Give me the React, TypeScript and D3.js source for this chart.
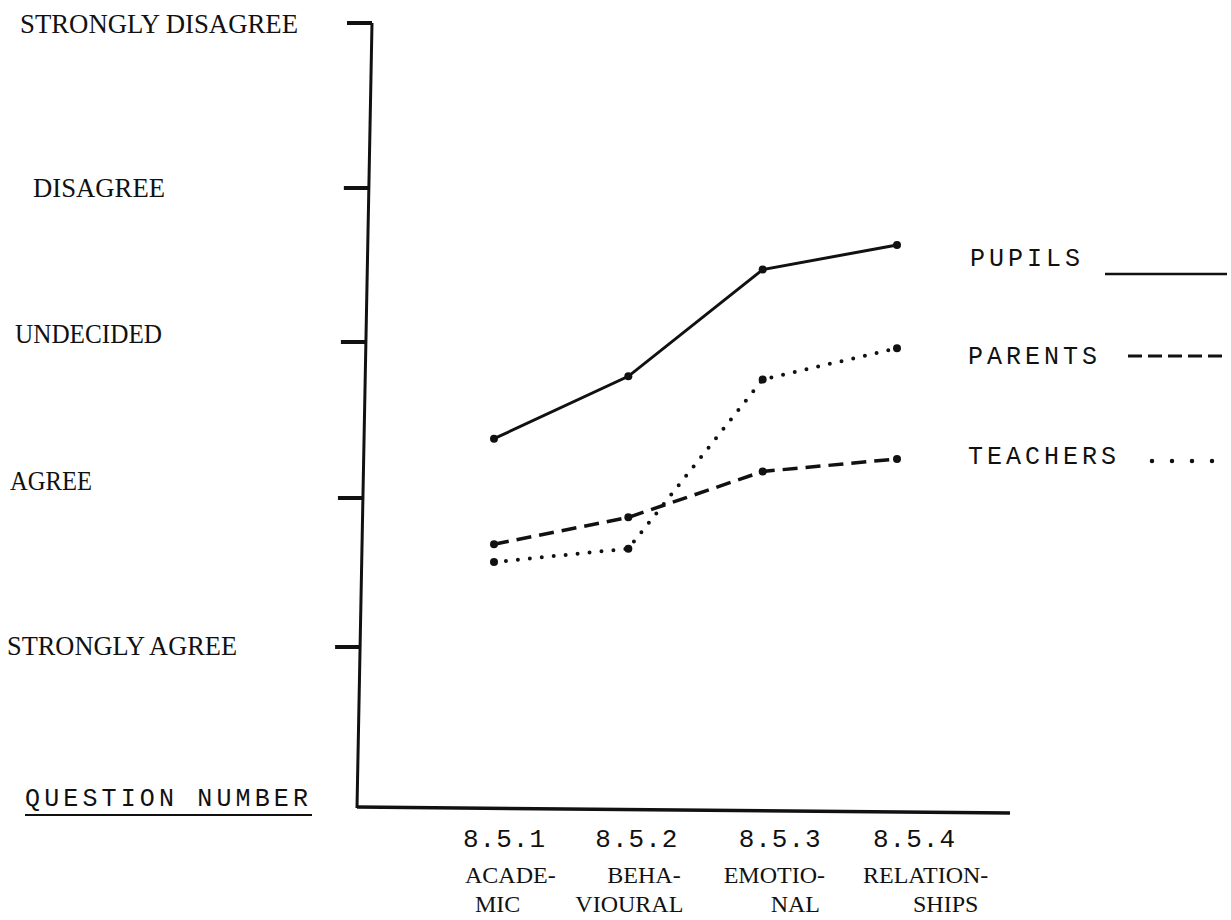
import React from 'react';
import * as d3 from 'd3';

// questions along the bottom
const categories = ['8.5.1', '8.5.2', '8.5.3', '8.5.4'];
const categoryNames = [['ACADE-', 'MIC'], ['BEHA-', 'VIOURAL'], ['EMOTIO-', 'NAL'], ['RELATION-', 'SHIPS']];

// likert scale, 1 = strongly agree ... 5 = strongly disagree
const scaleValues = [1, 2, 3, 4, 5];
const scaleLabels = ['STRONGLY AGREE', 'AGREE', 'UNDECIDED', 'DISAGREE', 'STRONGLY DISAGREE'];

// mean responses
const pupils = [2.38, 2.78, 3.47, 3.63];
const parents = [1.69, 1.87, 2.17, 2.25];
const teachers = [1.57, 1.66, 2.76, 2.96];

const W = 1231;
const H = 920;
const ink = '#111';

export default function App() {
  // hand drawn axis, ticks are not evenly spaced
  const yScale = d3.scaleLinear().domain(scaleValues).range([647, 498, 342, 188, 23]);
  const xScale = d3.scalePoint().domain(categories).range([494, 897]);
  // the vertical axis leans a little
  const axisX = d3.scaleLinear().domain([23, 808]).range([372, 357]);
  const xAxisY = d3.scaleLinear().domain([357, 1010]).range([807, 813]);

  const line = d3.line<number>()
    .x((d, i) => xScale(categories[i]) as number)
    .y((d) => yScale(d));

  const series = [
    { name: 'pupils', values: pupils, dash: undefined, width: 3, cap: 'butt' },
    { name: 'parents', values: parents, dash: '15 8', width: 3.5, cap: 'butt' },
    { name: 'teachers', values: teachers, dash: '0 12', width: 4, cap: 'round' },
  ];

  // label layout (left x, baseline shift, fitted width)
  const yLabelLayout = [
    { x: 7, dy: 8, len: 230 },
    { x: 10, dy: -8, len: 82 },
    { x: 15, dy: 1, len: 147 },
    { x: 33, dy: 9, len: 132 },
    { x: 20, dy: 10, len: 278 },
  ];
  const catOffsets = [
    [-31, -29, -19],
    [-33, -21, -53],
    [-24, -39, 8],
    [-24, -34, 16],
  ];

  const serif = '"Liberation Serif", "DejaVu Serif", serif';
  const mono = '"Liberation Mono", "DejaVu Sans Mono", monospace';

  return (
    <svg width={W} height={H} style={{ position: 'absolute', left: 0, top: 0, background: '#fff' }}>
      <rect width={W} height={H} fill="#fff" />

      {/* y axis */}
      <line x1={axisX(23)} y1={23} x2={axisX(808)} y2={808} stroke={ink} strokeWidth={3} />
      {scaleValues.map((v) => {
        const y = yScale(v);
        return (
          <line key={v} x1={axisX(y) - 25} y1={y} x2={axisX(y)} y2={y} stroke={ink} strokeWidth={4} />
        );
      })}
      {scaleLabels.map((lab, i) => (
        <text
          key={lab}
          x={yLabelLayout[i].x}
          y={yScale(scaleValues[i]) + yLabelLayout[i].dy}
          fontFamily={serif}
          fontSize={27}
          fill={ink}
          textLength={yLabelLayout[i].len}
          lengthAdjust="spacingAndGlyphs"
        >{lab}</text>
      ))}

      {/* x axis */}
      <line x1={357} y1={xAxisY(357)} x2={1010} y2={xAxisY(1010)} stroke={ink} strokeWidth={3.5} />
      {categories.map((c, i) => {
        const x = xScale(c) as number;
        return (
          <g key={c}>
            <text x={x + catOffsets[i][0]} y={847} fontFamily={mono} fontSize={26} letterSpacing={1} fill={ink}>{c}</text>
            <text x={x + catOffsets[i][1]} y={883} fontFamily={serif} fontSize={24} fill={ink}>{categoryNames[i][0]}</text>
            <text x={x + catOffsets[i][2]} y={912} fontFamily={serif} fontSize={24} fill={ink}>{categoryNames[i][1]}</text>
          </g>
        );
      })}

      <text x={25} y={806} fontFamily={mono} fontSize={25} letterSpacing={4} fill={ink}
        textLength={287} lengthAdjust="spacing">QUESTION NUMBER</text>
      <line x1={25} y1={815} x2={312} y2={815} stroke={ink} strokeWidth={2} />

      {/* series */}
      {series.map((s) => (
        <g key={s.name}>
          <path
            d={line(s.values) || ''}
            fill="none"
            stroke={ink}
            strokeWidth={s.width}
            strokeDasharray={s.dash}
            strokeLinecap={s.cap as any}
          />
          {s.values.map((v, i) => (
            <circle key={i} cx={xScale(categories[i])} cy={yScale(v)} r={4} fill={ink} />
          ))}
        </g>
      ))}

      {/* legend */}
      <text x={970} y={266} fontFamily={mono} fontSize={25} letterSpacing={4} fill={ink}>PUPILS</text>
      <line x1={1105} y1={274} x2={1227} y2={274} stroke={ink} strokeWidth={2.5} />
      <text x={968} y={364} fontFamily={mono} fontSize={25} letterSpacing={4} fill={ink}>PARENTS</text>
      <line x1={1128} y1={356} x2={1222} y2={356} stroke={ink} strokeWidth={3} strokeDasharray="14 6" />
      <text x={968} y={464} fontFamily={mono} fontSize={25} letterSpacing={4} fill={ink}>TEACHERS</text>
      <line x1={1152} y1={461} x2={1215} y2={461} stroke={ink} strokeWidth={4.5} strokeDasharray="0 20" strokeLinecap="round" />
    </svg>
  );
}
